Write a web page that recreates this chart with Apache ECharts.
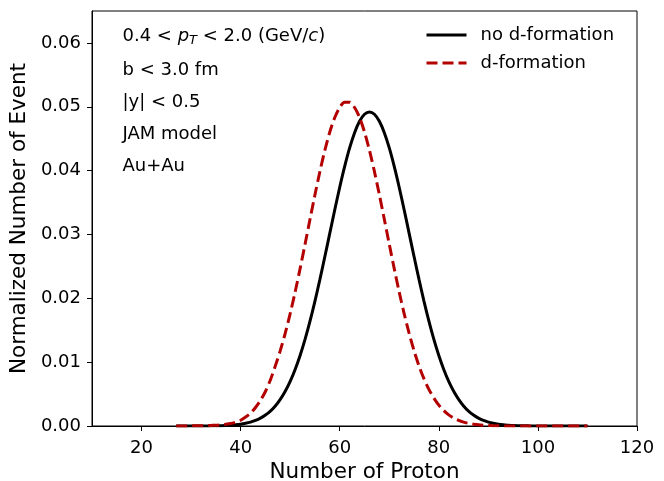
<!DOCTYPE html>
<html>
<head>
<meta charset="utf-8">
<script src="https://cdn.jsdelivr.net/npm/echarts@6/dist/echarts.min.js"></script>
<style>html,body{margin:0;padding:0;background:#fff}#c{width:664px;height:481px}</style>
</head>
<body>
<div id="c"></div>
<script>
var protonCounts = [
27,28,29,30,31,32,33,34,35,36,
37,38,39,40,41,42,43,44,45,46,
47,48,49,50,51,52,53,54,55,56,
57,58,59,60,61,62,63,64,65,66,
67,68,69,70,71,72,73,74,75,76,
77,78,79,80,81,82,83,84,85,86,
87,88,89,90,91,92,93,94,95,96,
97,98,99,100,101,102,103,104,105,106,
107,108,109,110];
var noDFormation = [
0,0,0,0,0,0.00001,0.00001,0.00002,0.00003,0.00005,
0.00008,0.00013,0.00019,0.00028,0.00042,0.00061,0.00087,0.00123,0.00171,0.00233,
0.00314,0.00417,0.00544,0.00699,0.00886,0.01105,0.01357,0.01642,0.01957,0.02296,
0.02654,0.03021,0.03387,0.03740,0.04066,0.04355,0.04594,0.04772,0.04883,0.0492,
0.04883,0.04772,0.04594,0.04355,0.04066,0.03740,0.03387,0.03021,0.02654,0.02296,
0.01957,0.01642,0.01357,0.01105,0.00886,0.00699,0.00544,0.00417,0.00314,0.00233,
0.00171,0.00123,0.00087,0.00061,0.00042,0.00028,0.00019,0.00013,0.00008,0.00005,
0.00003,0.00002,0.00001,0.00001,0,0,0,0,0,0,
0,0,0,0];
var dFormation = [
0,0,0.00001,0.00002,0.00003,0.00004,0.00006,0.00009,0.00012,0.00018,
0.00026,0.00038,0.0006,0.0009,0.0014,0.0020,0.0029,0.0040,0.0054,0.0072,
0.00942,0.01180,0.01453,0.01761,0.02100,0.02465,0.02847,0.03237,0.03621,0.03987,
0.04319,0.04605,0.04832,0.04989,0.0507,0.0507,0.04989,0.04832,0.04605,0.04319,
0.03987,0.03621,0.03237,0.02847,0.02465,0.02100,0.01761,0.01453,0.01180,0.00942,
0.00741,0.00573,0.00437,0.00327,0.00241,0.00175,0.00125,0.00088,0.00061,0.00041,
0.00028,0.00018,0.00012,0.00008,0.00005,0.00003,0.00002,0.00001,0,0,
0,0,0,0,0,0,0,0,0,0,
0,0,0,0];
var xTicks = [20, 40, 60, 80, 100, 120];
var yTicks = [0, 0.01, 0.02, 0.03, 0.04, 0.05, 0.06];
var seriesNames = ['no d-formation', 'd-formation'];
var annotations = ['b < 3.0 fm', '|y| < 0.5', 'JAM model', 'Au+Au'];

function pairs(xs, ys) { return xs.map(function (x, i) { return [x, ys[i]]; }); }

var FONT = 'DejaVu Sans';
var chart = echarts.init(document.getElementById('c'), null, {renderer: 'canvas'});

var graphics = [{
  type: 'text', left: 122.5, top: 27,
  style: {
    text: '0.4 < {i|p}{sub|T} < 2.0 (GeV/{i|c})',
    fontFamily: FONT, fontSize: 18, fill: '#000',
    rich: {
      i: {fontFamily: FONT, fontSize: 18, fontStyle: 'italic', fill: '#000'},
      sub: {fontFamily: FONT, fontSize: 13, fontStyle: 'italic', fill: '#000', padding: [10, 0, 0, 0]}
    }
  }
}];
var rowY = [72, 104, 136, 168];
annotations.forEach(function (t, i) {
  graphics.push({
    type: 'text', left: 122.5, top: rowY[i] - 11,
    style: {text: t, fontFamily: FONT, fontSize: 18, fill: '#000'}
  });
});

chart.setOption({
  animation: false,
  backgroundColor: '#fff',
  grid: {left: 92, right: 27, top: 11, bottom: 55, show: true, borderColor: '#000', borderWidth: 1,
    backgroundColor: 'transparent', containLabel: false, outerBoundsMode: 'none'},
  legend: {
    orient: 'vertical', left: 425, top: 26, padding: 0,
    itemWidth: 40, itemHeight: 18, itemGap: 10,
    data: seriesNames,
    itemStyle: {opacity: 0},
    lineStyle: {width: 3},
    textStyle: {fontFamily: FONT, fontSize: 18, color: '#000', padding: [0, 0, 0, 9]}
  },
  xAxis: {
    type: 'value', min: 10, max: 120,
    name: 'Number of Proton', nameLocation: 'middle', nameGap: 31,
    nameTextStyle: {fontFamily: FONT, fontSize: 21.5, color: '#000'},
    axisLine: {show: true, lineStyle: {color: '#000', width: 1}},
    axisTick: {show: true, inside: false, length: 5, lineStyle: {color: '#000'}, customValues: xTicks},
    axisLabel: {fontFamily: FONT, fontSize: 18, color: '#000', margin: 13, customValues: xTicks},
    splitLine: {show: false}
  },
  yAxis: {
    type: 'value', min: 0, max: 0.065,
    name: 'Normalized Number of Event', nameLocation: 'middle', nameGap: 56,
    nameTextStyle: {fontFamily: FONT, fontSize: 21.5, color: '#000'},
    axisLine: {show: true, lineStyle: {color: '#000', width: 1}},
    axisTick: {show: true, inside: false, length: 5, lineStyle: {color: '#000'}, customValues: yTicks},
    axisLabel: {fontFamily: FONT, fontSize: 18, color: '#000', margin: 11, customValues: yTicks,
      formatter: function (v) { return v.toFixed(2); }},
    splitLine: {show: false}
  },
  graphic: graphics,
  series: [
    {
      name: seriesNames[0], type: 'line', data: pairs(protonCounts, noDFormation),
      showSymbol: false, symbol: 'none', smooth: 0.3,
      lineStyle: {color: '#000', width: 3}, itemStyle: {color: '#000'}, z: 3
    },
    {
      name: seriesNames[1], type: 'line', data: pairs(protonCounts, dFormation),
      showSymbol: false, symbol: 'none', smooth: 0.3,
      lineStyle: {color: '#b30000', width: 3, type: [11, 5]}, itemStyle: {color: '#b30000'}, z: 4
    }
  ]
});
</script>
</body>
</html>
